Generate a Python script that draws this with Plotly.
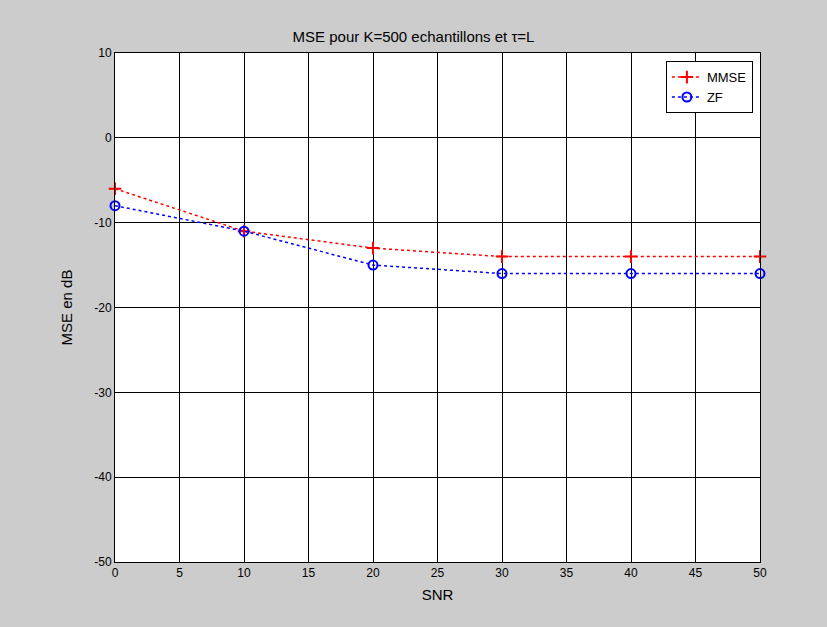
import plotly.graph_objects as go

snr = [0, 10, 20, 30, 40, 50]
mmse = [-6, -11, -13, -14, -14, -14]
zf = [-8, -11, -15, -16, -16, -16]
x_ticks = [0, 5, 10, 15, 20, 25, 30, 35, 40, 45, 50]
y_ticks = [10, 0, -10, -20, -30, -40, -50]
y_tick_text = ["10", "0", "-10", "-20", "-30", "-40", "-50"]

fig = go.Figure()
fig.add_trace(go.Scatter(x=snr, y=mmse, name="MMSE", mode="lines+markers",
                         line=dict(color="#ff0000", width=1.5, dash="dot"),
                         marker=dict(symbol="cross-thin-open", size=9,
                                     line=dict(color="#ff0000", width=2)),
                         cliponaxis=False))
fig.add_trace(go.Scatter(x=snr, y=zf, name="ZF", mode="lines+markers",
                         line=dict(color="#0000ff", width=1.5, dash="dot"),
                         marker=dict(symbol="circle-open", size=9,
                                     line=dict(color="#0000ff", width=2)),
                         cliponaxis=False))

axis_common = dict(showgrid=True, gridcolor="#000000", gridwidth=1,
                   showline=True, linecolor="#000000", linewidth=1, mirror=True,
                   ticks="inside", ticklen=5, tickcolor="#000000",
                   zeroline=False, tickfont=dict(size=12, color="#000000"))

fig.update_xaxes(range=[0, 50], tickvals=x_ticks,
                 title=dict(text="SNR", font=dict(size=15, color="#000000"), standoff=10),
                 **axis_common)
fig.update_yaxes(range=[-50, 10], tickvals=y_ticks, ticktext=y_tick_text,
                 title=dict(text="MSE en dB", font=dict(size=15, color="#000000"), standoff=18),
                 **axis_common)

fig.update_layout(
    width=827, height=627,
    paper_bgcolor="#cccccc", plot_bgcolor="#ffffff",
    font=dict(family="Liberation Sans, Arial, sans-serif", color="#000000"),
    title=dict(text="MSE pour K=500 echantillons et τ=L", x=0.5, xanchor="center",
               y=1 - 37 / 627, yanchor="middle", font=dict(size=15, color="#000000")),
    margin=dict(l=115, r=67, t=53, b=65),
    legend=dict(x=0.989, y=0.984, xanchor="right", yanchor="top",
                bgcolor="#ffffff", bordercolor="#000000", borderwidth=1,
                font=dict(size=13, color="#000000")),
    showlegend=True,
)

fig.write_html("out.html", config={"displayModeBar": False},
               post_script="document.body.style.margin='0';document.body.style.background='#cccccc';")
